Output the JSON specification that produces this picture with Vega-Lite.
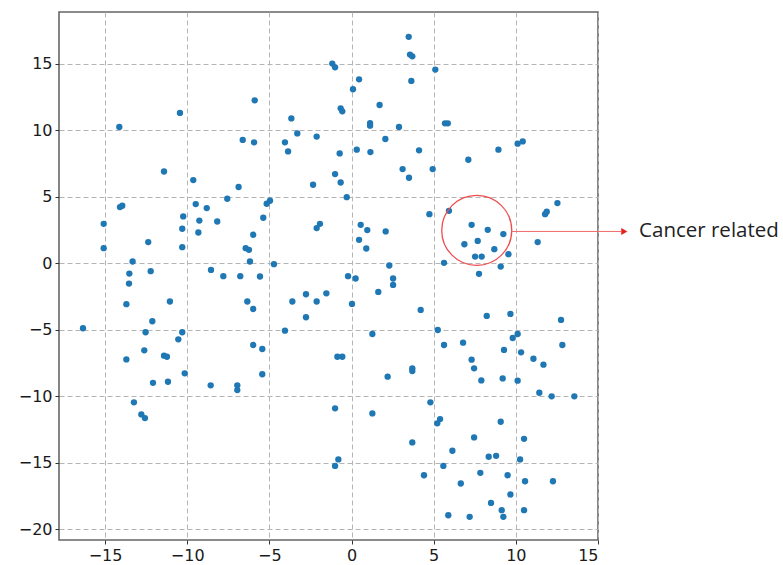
{
  "$schema": "https://vega.github.io/schema/vega-lite/v6.json",
  "width": 539,
  "height": 528,
  "autosize": {"type": "none"},
  "padding": {"left": 59, "top": 12, "right": 185, "bottom": 25},
  "background": "white",
  "config": {
    "view": {"stroke": "#666666", "strokeWidth": 1.6},
    "axis": {
      "domain": false,
      "grid": true,
      "gridColor": "#b5b5b5",
      "gridDash": [5, 3],
      "gridWidth": 1,
      "ticks": true,
      "tickColor": "#333333",
      "tickSize": 4,
      "tickWidth": 1,
      "labelFont": "DejaVu Sans",
      "labelFontSize": 16,
      "labelColor": "#1a1a1a",
      "labelPadding": 3,
      "title": null
    }
  },
  "datasets": {
    "points": [
      {"x": -5.89, "y": 12.26}, {"x": -10.44, "y": 11.31}, {"x": -14.13, "y": 10.26}, {"x": -6.62, "y": 9.28},
      {"x": -5.93, "y": 9.10}, {"x": -11.41, "y": 6.91}, {"x": -9.63, "y": 6.26}, {"x": -6.87, "y": 5.74},
      {"x": 3.48, "y": 17.03}, {"x": 3.56, "y": 15.70}, {"x": 3.70, "y": 15.57}, {"x": -1.17, "y": 15.02},
      {"x": -1.00, "y": 14.74}, {"x": 5.10, "y": 14.57}, {"x": 0.46, "y": 13.84}, {"x": 3.64, "y": 13.72},
      {"x": 0.09, "y": 13.09}, {"x": -0.66, "y": 11.66}, {"x": -0.56, "y": 11.43}, {"x": 1.71, "y": 11.91},
      {"x": -3.66, "y": 10.90}, {"x": 1.13, "y": 10.55}, {"x": 1.13, "y": 10.35}, {"x": 5.69, "y": 10.53},
      {"x": 5.86, "y": 10.53}, {"x": -3.30, "y": 9.77}, {"x": 2.89, "y": 10.26}, {"x": -4.05, "y": 9.10},
      {"x": -3.86, "y": 8.42}, {"x": -2.12, "y": 9.53}, {"x": 2.06, "y": 9.35}, {"x": -0.72, "y": 8.27},
      {"x": 0.32, "y": 8.55}, {"x": 1.15, "y": 8.37}, {"x": 4.11, "y": 8.50}, {"x": 3.11, "y": 7.09},
      {"x": 4.94, "y": 7.09}, {"x": 3.50, "y": 6.44}, {"x": -1.00, "y": 6.71}, {"x": -0.66, "y": 6.08},
      {"x": -2.34, "y": 5.91}, {"x": 7.11, "y": 7.79}, {"x": 8.94, "y": 8.55}, {"x": 10.11, "y": 9.00},
      {"x": 10.42, "y": 9.17}, {"x": -7.56, "y": 4.86}, {"x": -14.09, "y": 4.23}, {"x": -13.95, "y": 4.33},
      {"x": -9.48, "y": 4.46}, {"x": -8.81, "y": 4.16}, {"x": -10.24, "y": 3.53}, {"x": -9.26, "y": 3.22},
      {"x": -8.17, "y": 3.15}, {"x": -15.08, "y": 2.97}, {"x": -10.30, "y": 2.60}, {"x": -9.32, "y": 2.32},
      {"x": -5.98, "y": 2.15}, {"x": -12.37, "y": 1.60}, {"x": -10.30, "y": 1.22}, {"x": -15.08, "y": 1.14},
      {"x": -6.44, "y": 1.14}, {"x": -6.24, "y": 1.02}, {"x": -13.32, "y": 0.14}, {"x": -6.18, "y": 0.14},
      {"x": -8.55, "y": -0.49}, {"x": -13.52, "y": -0.77}, {"x": -12.22, "y": -0.59}, {"x": -7.80, "y": -0.96},
      {"x": -6.77, "y": -0.96}, {"x": -13.54, "y": -1.52}, {"x": -13.70, "y": -3.07}, {"x": -11.05, "y": -2.87},
      {"x": -6.34, "y": -2.87}, {"x": -5.98, "y": -3.43}, {"x": -12.12, "y": -4.35}, {"x": -16.34, "y": -4.88},
      {"x": -12.53, "y": -5.18}, {"x": -10.30, "y": -5.18}, {"x": -10.54, "y": -5.71}, {"x": -12.61, "y": -6.54},
      {"x": -11.41, "y": -6.94}, {"x": -11.23, "y": -7.02}, {"x": -13.70, "y": -7.22}, {"x": -5.98, "y": -6.14},
      {"x": -10.15, "y": -8.27}, {"x": -12.08, "y": -8.98}, {"x": -11.17, "y": -8.90}, {"x": -8.57, "y": -9.17},
      {"x": -6.95, "y": -9.17}, {"x": -6.95, "y": -9.53}, {"x": -13.24, "y": -10.45}, {"x": -12.79, "y": -11.36},
      {"x": -12.57, "y": -11.63}, {"x": -0.29, "y": 4.98}, {"x": -5.16, "y": 4.48}, {"x": -4.96, "y": 4.71},
      {"x": -5.37, "y": 3.43}, {"x": -1.92, "y": 2.97}, {"x": -2.12, "y": 2.65}, {"x": 0.56, "y": 2.90},
      {"x": 0.96, "y": 2.50}, {"x": 2.08, "y": 2.40}, {"x": 0.46, "y": 1.77}, {"x": 0.90, "y": 1.12},
      {"x": 4.74, "y": 3.70}, {"x": -4.72, "y": -0.06}, {"x": -5.57, "y": -0.99}, {"x": 2.30, "y": -0.16},
      {"x": 5.63, "y": 0.04}, {"x": -0.21, "y": -0.96}, {"x": 0.25, "y": -1.14}, {"x": 2.53, "y": -1.14},
      {"x": 2.53, "y": -1.62}, {"x": 1.63, "y": -2.15}, {"x": -2.77, "y": -2.32}, {"x": -1.53, "y": -2.25},
      {"x": -3.60, "y": -2.87}, {"x": -2.12, "y": -2.87}, {"x": 0.03, "y": -3.05}, {"x": -2.77, "y": -4.05},
      {"x": 4.21, "y": -3.50}, {"x": -4.05, "y": -5.06}, {"x": 1.27, "y": -5.31}, {"x": 5.25, "y": -5.01},
      {"x": 5.63, "y": -6.14}, {"x": -5.43, "y": -6.44}, {"x": -0.86, "y": -7.02}, {"x": -0.56, "y": -7.02},
      {"x": -5.43, "y": -8.34}, {"x": 2.20, "y": -8.52}, {"x": 3.70, "y": -7.89}, {"x": 3.70, "y": -8.10},
      {"x": -1.00, "y": -10.90}, {"x": 1.27, "y": -11.28}, {"x": 4.80, "y": -10.45}, {"x": 5.39, "y": -11.71},
      {"x": 5.22, "y": -12.03}, {"x": 3.70, "y": -13.46}, {"x": -0.80, "y": -14.74}, {"x": -1.00, "y": -15.23},
      {"x": 5.59, "y": -15.23}, {"x": 4.41, "y": -15.93}, {"x": 5.89, "y": -18.94}, {"x": 7.31, "y": -7.24},
      {"x": 7.46, "y": -7.89}, {"x": 7.90, "y": -8.80}, {"x": 9.20, "y": -8.65}, {"x": 10.11, "y": -8.82},
      {"x": 11.07, "y": -7.17}, {"x": 11.68, "y": -7.62}, {"x": 11.43, "y": -9.73}, {"x": 12.18, "y": -10.00},
      {"x": 13.56, "y": -10.00}, {"x": 9.08, "y": -11.91}, {"x": 7.46, "y": -13.09}, {"x": 10.50, "y": -13.19},
      {"x": 6.14, "y": -14.09}, {"x": 8.35, "y": -14.54}, {"x": 8.80, "y": -14.47}, {"x": 10.26, "y": -14.74},
      {"x": 7.84, "y": -15.75}, {"x": 6.65, "y": -16.55}, {"x": 9.50, "y": -15.93}, {"x": 10.56, "y": -16.38},
      {"x": 12.26, "y": -16.38}, {"x": 9.67, "y": -17.38}, {"x": 8.49, "y": -18.01}, {"x": 9.14, "y": -18.56},
      {"x": 9.24, "y": -19.06}, {"x": 10.50, "y": -18.56}, {"x": 7.19, "y": -19.06}, {"x": 5.93, "y": 3.95},
      {"x": 7.31, "y": 2.90}, {"x": 8.29, "y": 2.52}, {"x": 9.24, "y": 2.20}, {"x": 7.68, "y": 1.69},
      {"x": 6.87, "y": 1.44}, {"x": 8.69, "y": 1.07}, {"x": 9.55, "y": 0.69}, {"x": 7.52, "y": 0.51},
      {"x": 7.92, "y": 0.51}, {"x": 9.08, "y": -0.24}, {"x": 7.76, "y": -0.79}, {"x": 11.78, "y": 3.70},
      {"x": 11.88, "y": 3.88}, {"x": 12.53, "y": 4.53}, {"x": 11.33, "y": 1.60}, {"x": 8.23, "y": -3.95},
      {"x": 9.67, "y": -3.80}, {"x": 12.75, "y": -4.25}, {"x": 10.11, "y": -5.31}, {"x": 9.81, "y": -5.61},
      {"x": 6.79, "y": -5.96}, {"x": 9.28, "y": -6.51}, {"x": 10.32, "y": -6.69}, {"x": 12.83, "y": -6.14}
    ],
    "highlight": [{"x": 7.62, "y": 2.48}],
    "pointer": [{"x": 9.75, "x2": 16.4, "y": 2.4}],
    "arrowhead": [{"x": 16.6, "y": 2.4}],
    "label": [{"x": 17.5, "y": 2.4, "text": "Cancer related"}]
  },
  "layer": [
    {
      "data": {"name": "points"},
      "mark": {"type": "circle", "color": "#1f77b4", "opacity": 1, "size": 40},
      "encoding": {
        "x": {
          "field": "x", "type": "quantitative",
          "scale": {"domain": [-17.8, 15.0], "nice": false, "zero": false},
          "axis": {"values": [-15, -10, -5, 0, 5, 10, 15]}
        },
        "y": {
          "field": "y", "type": "quantitative",
          "scale": {"domain": [-20.8, 18.9], "nice": false, "zero": false},
          "axis": {"values": [-20, -15, -10, -5, 0, 5, 10, 15]}
        }
      }
    },
    {
      "data": {"name": "highlight"},
      "mark": {"type": "point", "shape": "circle", "filled": false, "stroke": "#ee4d4d", "strokeWidth": 1.3, "size": 4900, "opacity": 1},
      "encoding": {
        "x": {"field": "x", "type": "quantitative"},
        "y": {"field": "y", "type": "quantitative"}
      }
    },
    {
      "data": {"name": "pointer"},
      "mark": {"type": "rule", "color": "#f06a6a", "strokeWidth": 1},
      "encoding": {
        "x": {"field": "x", "type": "quantitative"},
        "x2": {"field": "x2"},
        "y": {"field": "y", "type": "quantitative"}
      }
    },
    {
      "data": {"name": "arrowhead"},
      "mark": {"type": "point", "shape": "triangle-right", "filled": true, "color": "#e8201c", "size": 50, "opacity": 1},
      "encoding": {
        "x": {"field": "x", "type": "quantitative"},
        "y": {"field": "y", "type": "quantitative"}
      }
    },
    {
      "data": {"name": "label"},
      "mark": {"type": "text", "align": "left", "baseline": "middle", "font": "Open Sans", "fontSize": 20.5, "color": "#222222"},
      "encoding": {
        "x": {"field": "x", "type": "quantitative"},
        "y": {"field": "y", "type": "quantitative"},
        "text": {"field": "text"}
      }
    }
  ]
}
